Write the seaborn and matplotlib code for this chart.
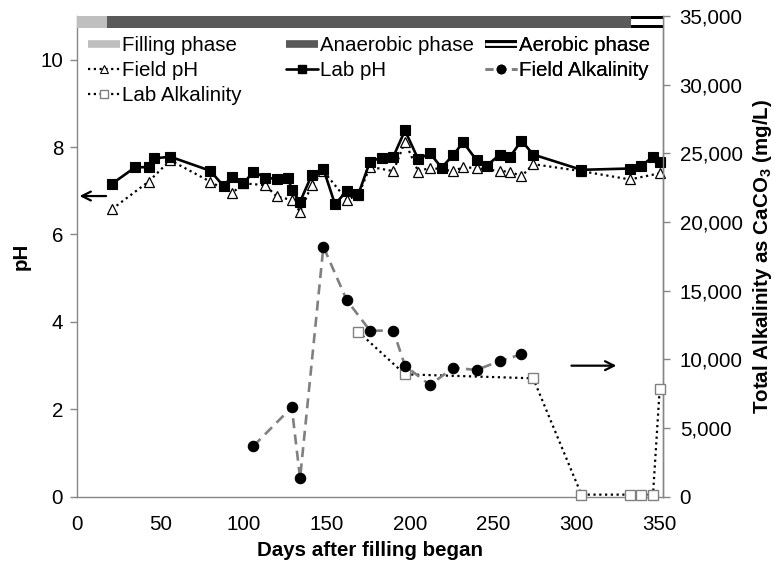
import matplotlib
matplotlib.use("Agg")
import matplotlib.pyplot as plt
from matplotlib.lines import Line2D
from matplotlib.ticker import FuncFormatter, MultipleLocator
import seaborn as sns
import pandas as pd

# ---- data ---------------------------------------------------------------
lab_ph_days = [21, 35, 43, 46, 56, 80, 88, 93, 100, 106, 113, 120, 127, 129,
               134, 141, 148, 155, 162, 169, 176, 183, 190, 197, 205, 212,
               219, 226, 232, 240, 246, 254, 260, 267, 274, 303, 332, 339,
               346, 350]
lab_ph = [7.16, 7.54, 7.54, 7.74, 7.78, 7.46, 7.11, 7.32, 7.17, 7.44, 7.30,
          7.27, 7.29, 7.01, 6.75, 7.36, 7.50, 6.69, 7.00, 6.92, 7.67, 7.76,
          7.78, 8.38, 7.72, 7.86, 7.53, 7.82, 8.11, 7.70, 7.57, 7.83, 7.77,
          8.15, 7.83, 7.48, 7.51, 7.57, 7.78, 7.67]

field_ph_days = [21, 43, 56, 80, 93, 100, 113, 120, 129, 134, 141, 148, 162,
                 169, 176, 190, 197, 205, 212, 226, 232, 240, 254, 260, 267,
                 274, 303, 332, 350]
field_ph = [6.58, 7.21, 7.70, 7.21, 6.94, 7.17, 7.13, 6.87, 6.79, 6.52, 7.13,
            7.45, 6.80, 6.90, 7.55, 7.45, 8.12, 7.44, 7.53, 7.45, 7.54, 7.52,
            7.45, 7.44, 7.33, 7.61, 7.45, 7.26, 7.40]

field_alk_days = [106, 129, 134, 148, 162, 176, 190, 197, 212, 226, 240, 254, 267]
field_alk = [3690, 6510, 1340, 18200, 14320, 12090, 12090, 9540, 8130, 9390,
             9230, 9880, 10370]

lab_alk_days = [169, 197, 274, 303, 332, 339, 346, 350]
lab_alk = [12010, 8910, 8620, 150, 150, 150, 150, 7840]

phase_names = ["Filling phase", "Anaerobic phase", "Aerobic phase"]
phase_start = [0, 18, 333]
phase_end = [18, 333, 352]

# ---- style ----------------------------------------------------------------
sns.set_style("white")
plt.rcParams["font.family"] = ["Liberation Sans", "DejaVu Sans"]
plt.rcParams["font.size"] = 14.8
plt.rcParams["text.color"] = "black"
plt.rcParams["axes.labelcolor"] = "black"
plt.rcParams["xtick.color"] = "black"
plt.rcParams["ytick.color"] = "black"
plt.rcParams["mathtext.fontset"] = "custom"
plt.rcParams["mathtext.rm"] = "Liberation Sans"
plt.rcParams["mathtext.bf"] = "Liberation Sans:bold"

SPINE = "#868686"
GRAY_DASH = "#808080"
LIGHT = "#bfbfbf"
DARK = "#595959"

W, H = 774, 563
fig = plt.figure(figsize=(W / 100, H / 100), dpi=100)
ax = fig.add_axes([77 / W, 1 - 496.7 / H, (663 - 77) / W, (496.7 - 16) / H])
ax2 = ax.twinx()

ax.set_xlim(0, 352)
ax.set_ylim(0, 11)
ax2.set_ylim(0, 35000)

# ---- pH series (left axis) -------------------------------------------------
dotted = (0, (1, 1.6))
df_fph = pd.DataFrame({"day": field_ph_days, "pH": field_ph})
df_lph = pd.DataFrame({"day": lab_ph_days, "pH": lab_ph})

sns.lineplot(data=df_fph, x="day", y="pH", ax=ax, estimator=None,
             color="black", lw=1.6, linestyle=dotted,
             marker="^", markersize=7.5, markerfacecolor="white",
             markeredgecolor="black", markeredgewidth=0.9, zorder=3,
             clip_on=False)
sns.lineplot(data=df_lph, x="day", y="pH", ax=ax, estimator=None,
             color="black", lw=1.9, linestyle="-",
             marker="s", markersize=7, markerfacecolor="black",
             markeredgecolor="black", markeredgewidth=0.8, zorder=4,
             clip_on=False)

# ---- alkalinity series (right axis) ----------------------------------------
df_falk = pd.DataFrame({"day": field_alk_days, "alk": field_alk})
df_lalk = pd.DataFrame({"day": lab_alk_days, "alk": lab_alk})

sns.lineplot(data=df_lalk, x="day", y="alk", ax=ax2, estimator=None,
             color="black", lw=1.6, linestyle=dotted,
             marker="s", markersize=7.5, markerfacecolor="white",
             markeredgecolor=GRAY_DASH, markeredgewidth=1.0, zorder=3,
             clip_on=False)
sns.lineplot(data=df_falk, x="day", y="alk", ax=ax2, estimator=None,
             color=GRAY_DASH, lw=1.9, linestyle=(0, (3.8, 2.4)),
             marker="o", markersize=7.5, markerfacecolor="black",
             markeredgecolor="black", markeredgewidth=0.8, zorder=4,
             clip_on=False)

# ---- phase bar along the top ------------------------------------------------
ax.axvspan(phase_start[0], phase_end[0], ymin=0.975, ymax=1.0,
           color=LIGHT, lw=0, zorder=5)
ax.axvspan(phase_start[1], phase_end[1], ymin=0.975, ymax=1.0,
           color=DARK, lw=0, zorder=5)
ax.axvspan(phase_start[2], phase_end[2], ymin=0.975, ymax=1.0,
           color="black", lw=0, zorder=5)
ax.axvspan(phase_start[2], phase_end[2], ymin=0.9806, ymax=0.9944,
           color="white", lw=0, zorder=6)

# ---- arrows pointing to each axis -------------------------------------------
ax.annotate("", xy=(1.5, 6.88), xytext=(17.5, 6.88),
            arrowprops=dict(arrowstyle="->", lw=1.6, color="black",
                            shrinkA=0, shrinkB=0, mutation_scale=16))
ax2.annotate("", xy=(324, 9540), xytext=(297, 9540),
             arrowprops=dict(arrowstyle="->", lw=1.6, color="black",
                             shrinkA=0, shrinkB=0, mutation_scale=16))

# ---- axes, ticks, labels -----------------------------------------------------
ax.xaxis.set_major_locator(MultipleLocator(50))
ax.yaxis.set_major_locator(MultipleLocator(2))
ax2.yaxis.set_major_locator(MultipleLocator(5000))
ax2.yaxis.set_major_formatter(FuncFormatter(lambda v, p: f"{int(v):,}"))

for a in (ax, ax2):
    a.spines["top"].set_visible(False)
    for s in ("left", "right", "bottom"):
        a.spines[s].set_color(SPINE)
        a.spines[s].set_linewidth(1.0)
    a.tick_params(direction="out", length=5, width=1, color=SPINE,
                  labelcolor="black", labelsize=14.8, pad=5)
ax.tick_params(axis="x", pad=8)
ax2.tick_params(axis="y", pad=7)
ax2.spines["left"].set_visible(False)
ax2.spines["bottom"].set_visible(False)

ax.set_xlabel("Days after filling began", fontweight="bold", labelpad=5,
              color="black")
ax.set_ylabel("pH", fontweight="bold", labelpad=7, color="black")
ax2.set_ylabel(r"Total Alkalinity as CaCO$_\mathbf{3}$ (mg/L)",
               fontweight="bold", labelpad=6, color="black")

# ---- legend: three columns laid out row by row -------------------------------
h_fill = Line2D([], [], color=LIGHT, lw=5.5, solid_capstyle="butt")
h_anae = Line2D([], [], color=DARK, lw=5.5, solid_capstyle="butt")
h_aero = (Line2D([], [], color="black", lw=5.5, solid_capstyle="butt"),
          Line2D([], [], color="white", lw=2.0, solid_capstyle="butt"))
h_fph = Line2D([], [], color="black", lw=1.6, linestyle=dotted, marker="^",
               markersize=6, markerfacecolor="white", markeredgecolor="black",
               markeredgewidth=0.8)
h_lph = Line2D([], [], color="black", lw=1.9, marker="s", markersize=5.5,
               markerfacecolor="black", markeredgecolor="black")
h_falk = Line2D([], [], color=GRAY_DASH, lw=1.9, linestyle=(0, (3, 2)),
                marker="o", markersize=6, markerfacecolor="black",
                markeredgecolor="black")
h_lalk = Line2D([], [], color="black", lw=1.6, linestyle=dotted, marker="s",
                markersize=6, markerfacecolor="white",
                markeredgecolor=GRAY_DASH, markeredgewidth=1.0)

columns = [
    ([h_fill, h_fph, h_lalk], [phase_names[0], "Field pH", "Lab Alkalinity"], 88),
    ([h_anae, h_lph], [phase_names[1], "Lab pH"], 286),
    ([h_aero, h_falk], [phase_names[2], "Field Alkalinity"], 485),
]
for handles, labels, x_px in columns:
    leg = ax2.legend(handles, labels, loc="upper left",
                     bbox_to_anchor=(x_px / W, 1 - 36 / H),
                     bbox_transform=fig.transFigure, frameon=False,
                     borderpad=0, borderaxespad=0, handlelength=1.55,
                     handletextpad=0.08, labelspacing=0.3, numpoints=1,
                     fontsize=14.8, labelcolor="black")
    ax2.add_artist(leg)

fig.savefig("out.png", dpi=100)
